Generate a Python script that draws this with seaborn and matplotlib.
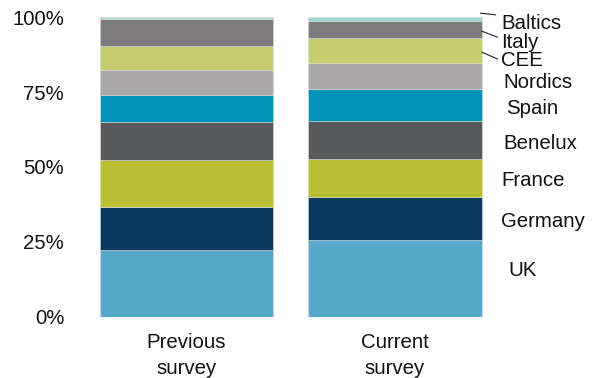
import matplotlib
matplotlib.use("Agg")
import matplotlib.pyplot as plt
import numpy as np
import pandas as pd
import seaborn as sns

# Survey columns
surveys = ["Previous\nsurvey", "Current\nsurvey"]

# Regions, stacked bottom to top
regions = ["UK", "Germany", "France", "Benelux", "Spain", "Nordics", "CEE", "Italy", "Baltics"]

# Share of respondents per region (%)
previous = [22.4, 14.3, 15.6, 12.7, 9.2, 8.1, 8.0, 9.1, 0.6]
current = [25.5, 14.6, 12.6, 12.5, 10.7, 8.8, 8.4, 5.8, 1.1]

colors = ["#56A9C8", "#0B3A5E", "#B8BF35", "#58595B", "#0093B5",
          "#A9A7A8", "#C8CC6F", "#7D7B7C", "#9DD5D5"]

y_ticks = [0, 25, 50, 75, 100]
y_tick_labels = ["0%", "25%", "50%", "75%", "100%"]

sns.set_style("white")
plt.rcParams["font.family"] = ["Liberation Sans", "DejaVu Sans"]
FS = 14.7

df = pd.DataFrame({"survey": np.repeat(surveys, len(regions)),
                   "region": regions * len(surveys),
                   "share": previous + current})

fig = plt.figure(figsize=(5.93, 3.78), dpi=100)
ax = fig.add_axes([82.25 / 593, 61.3 / 378, 417 / 593, 299.4 / 378])

bottoms = np.zeros(len(surveys))
label_pos = {}
for region, color in zip(regions, colors):
    sub = df[df["region"] == region]
    heights = sub.set_index("survey").loc[surveys, "share"].to_numpy()
    sns.barplot(data=sub, x="survey", y="share", order=surveys, color=color,
                bottom=bottoms, width=0.834, errorbar=None, saturation=1,
                edgecolor="#dcdcdc", linewidth=0.4, ax=ax)
    label_pos[region] = bottoms[1] + heights[1] / 2
    bottoms = bottoms + heights

ax.set_xlim(-0.5, 1.5)
ax.set_ylim(0, 100)
ax.set_yticks(y_ticks)
ax.set_yticklabels(y_tick_labels)
ax.set_xlabel("")
ax.set_ylabel("")
for s in ax.spines.values():
    s.set_visible(False)
ax.tick_params(axis="y", length=0, pad=13, labelsize=FS, colors="#111111")
ax.tick_params(axis="x", length=0, pad=12, labelsize=FS, colors="#111111")
for t in ax.get_xticklabels():
    t.set_linespacing(1.42)

# Region labels beside the current-survey column
label_shift = {"UK": 3.8, "Nordics": -1.2, "CEE": -2.4, "Italy": -3.3, "Baltics": -0.5}
label_x = {"UK": 1.542, "Spain": 1.532, "Nordics": 1.518, "Benelux": 1.518}
for region in regions:
    y = label_pos[region] + label_shift.get(region, 0) - 1.0
    ax.text(label_x.get(region, 1.51), y, region, ha="left", va="center",
            fontsize=FS, color="#111111", clip_on=False)

# Leader lines for the thin top segments
leaders = [((1.408, 101.4), (1.484, 100.8)),
           ((1.415, 95.4), (1.494, 93.3)),
           ((1.415, 88.4), (1.494, 86.0))]
for (x0, y0), (x1, y1) in leaders:
    ax.plot([x0, x1], [y0, y1], color="#222222", lw=0.8, clip_on=False,
            solid_capstyle="butt")

fig.savefig("out.png", dpi=100)
